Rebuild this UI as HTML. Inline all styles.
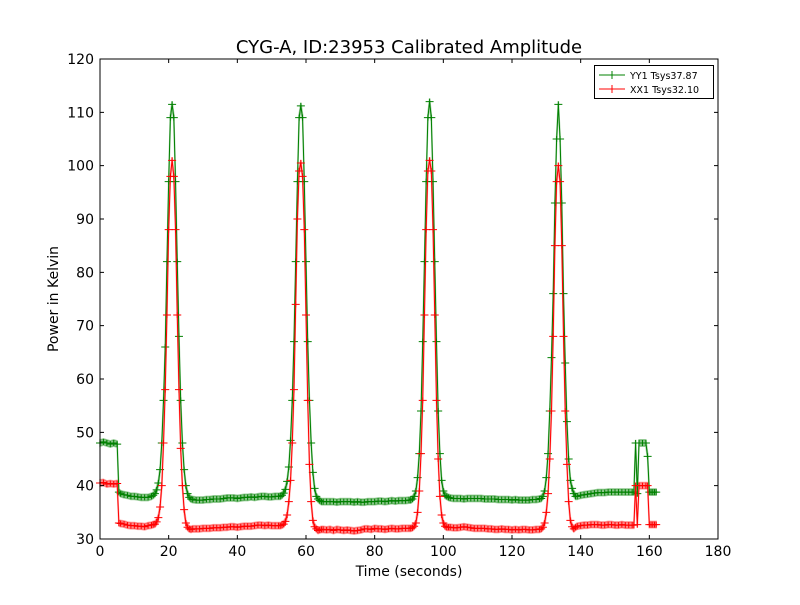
<!DOCTYPE html>
<html><head><meta charset="utf-8"><style>
body{margin:0;background:#fff;}
svg text{font-family:"DejaVu Sans","Liberation Sans",sans-serif;}
</style></head><body>
<svg id="chart" width="800" height="600" xmlns="http://www.w3.org/2000/svg">
<rect width="800" height="600" fill="#fff"/>
<text x="409" y="53" font-size="18" text-anchor="middle">CYG-A, ID:23953 Calibrated Amplitude</text>
<text x="409" y="576" font-size="14" text-anchor="middle">Time (seconds)</text>
<text transform="translate(58,299) rotate(-90)" font-size="14" text-anchor="middle">Power in Kelvin</text>
<g id="plot"></g>
<rect x="100" y="59" width="618" height="480" fill="none" stroke="#000" stroke-width="1"/>
<g id="ticks"></g>
<g>
<rect x="594.5" y="65.5" width="119" height="33" fill="#fff" stroke="#000"/>
<g>
<line x1="599" y1="75" x2="625" y2="75" stroke="#008000"/><line x1="612" y1="71" x2="612" y2="79" stroke="#008000"/>
<text x="630" y="79" font-size="9.5">YY1 Tsys37.87</text></g>
<g>
<line x1="599" y1="89" x2="625" y2="89" stroke="#ff0000"/><line x1="612" y1="85" x2="612" y2="93" stroke="#ff0000"/>
<text x="630" y="93" font-size="9.5">XX1 Tsys32.10</text></g>
</g>
</svg>
<script>
const times=[0,1,2,3,4,5,5.5,6,7,8,9,10,11,12,13,14,15,
15.5,16,16.5,17,17.5,18,18.5,19,19.5,20,20.5,21,21.5,22,22.5,23,23.5,24,24.5,25,25.5,26,26.5,
27,28,29,30,31,32,33,34,35,36,37,38,39,40,41,42,43,44,45,46,47,48,49,50,51,52,
52.5,53,53.5,54,54.5,55,55.5,56,56.5,57,57.5,58,58.5,59,59.5,60,60.5,61,61.5,62,62.5,63,63.5,64,64.5,
65,66,67,68,69,70,71,72,73,74,75,76,77,78,79,80,81,82,83,84,85,86,87,88,89,90,
90.5,91,91.5,92,92.5,93,93.5,94,94.5,95,95.5,96,96.5,97,97.5,98,98.5,99,99.5,100,100.5,101,101.5,
102,103,104,105,106,107,108,109,110,111,112,113,114,115,116,117,118,119,120,121,122,123,124,125,126,127,
128,128.5,129,129.5,130,130.5,131,131.5,132,132.5,133,133.5,134,134.5,135,135.5,136,136.5,137,137.5,138,138.5,139,
140,141,142,143,144,145,146,147,148,149,150,151,152,153,154,155,
155.5,156,156.5,157,158,159,159.5,160,160.5,161,161.5,162];
const yy1=[48,48.2,48,47.8,48,47.8,38.8,38.5,38.3,38.2,38,38,37.9,37.8,37.8,37.8,38,
38.2,38.5,39.2,40.5,43,48,56,66,82,97,109,111.5,109,97,82,68,56,48,43,40,38.5,37.8,37.5,
37.4,37.3,37.3,37.3,37.4,37.4,37.5,37.5,37.5,37.6,37.7,37.7,37.7,37.6,37.7,37.8,37.8,37.9,37.8,37.9,38,38,37.9,37.9,38,38,
38,38.2,38.6,39.3,40.8,43.5,48.5,56,67,82,97,109,111.2,109,97,82,67,56,48,42.5,39.5,38,37.5,37.2,37,
37,37,37,37,36.9,37,37,37,37,36.9,37,36.9,36.9,37,37,37,37.1,37.1,37,37.1,37.2,37.1,37.2,37.2,37.2,37.3,
37.3,37.5,38,39,41.5,46,54,67,82,97,109,112,109,97,82,67,54,46,41,39,38.2,38,37.8,
37.7,37.6,37.6,37.6,37.5,37.6,37.6,37.6,37.6,37.6,37.5,37.5,37.5,37.5,37.4,37.4,37.4,37.4,37.3,37.4,37.3,37.3,37.3,37.3,37.4,37.4,
37.5,37.6,38,39,41.5,46,54,64,76,93,105,111.5,105,93,76,63,52,45,41,39.5,38.5,38,38,
38.2,38.3,38.4,38.5,38.6,38.7,38.7,38.7,38.8,38.8,38.8,38.8,38.8,38.8,38.8,38.8,
38.8,48,38.5,48,48,48,45.5,38.8,38.8,38.8,38.8,38.8];
const xx1=[40.5,40.6,40.3,40.4,40.3,40.4,33,32.9,32.8,32.6,32.5,32.5,32.4,32.4,32.3,32.5,32.6,
32.7,32.8,33.2,34,36,40,48,58,72,88,98,101,98,88,72,58,47,40,35.5,33,32.2,31.9,31.8,
31.9,31.9,31.9,32,32,32,32.1,32.1,32.1,32.2,32.2,32.3,32.3,32.2,32.3,32.4,32.4,32.4,32.5,32.6,32.6,32.5,32.6,32.5,32.5,32.5,
32.5,32.6,32.8,33.3,34.5,37,41,48,58,74,90,99,100.5,98,88,72,56,44,37,33.5,32.3,31.9,31.6,31.7,31.8,
31.8,31.7,31.8,31.6,31.8,31.7,31.6,31.7,31.6,31.5,31.6,31.7,31.9,31.9,31.8,32,31.9,31.9,31.8,31.9,32,31.9,31.9,32,32,32,
32,32.1,32.4,33,35,39,46,56,72,88,99,101,99,88,72,56,45,38,34.5,33,32.4,32.2,32.2,
32.2,32.1,32.1,32.2,32.3,32.2,32.1,32,32,32,32,31.9,31.9,31.8,31.8,31.9,31.8,31.8,31.7,31.8,31.7,31.8,31.8,31.7,31.7,31.8,
31.8,31.9,32.2,33,35,38.5,45,54,68,85,97,100,97,85,68,54,44,37,33.5,32.3,31.9,32.2,32.4,
32.5,32.6,32.6,32.7,32.7,32.7,32.6,32.6,32.7,32.7,32.6,32.6,32.7,32.6,32.6,32.6,
32.6,40,32.7,40,40,40,40,32.7,32.7,32.7,32.7,32.7];
const xTicks=[0,20,40,60,80,100,120,140,160,180];
const yTicks=[30,40,50,60,70,80,90,100,110,120];
const NS="http://www.w3.org/2000/svg";
const X0=100,X1=718,Y0=539,Y1=59;
function sx(t){return X0+t*(X1-X0)/180;}
function sy(v){return Y0-(v-30)*(Y0-Y1)/90;}
function mk(tag,attrs,parent){const e=document.createElementNS(NS,tag);for(const k in attrs)e.setAttribute(k,attrs[k]);parent.appendChild(e);return e;}
const plot=document.getElementById('plot');
function series(vals,color,name){
  const g=mk('g',{},plot);
  
  
  const up=times.map((t,i)=>sx(t).toFixed(2)+','+sy(vals[i]+0.6).toFixed(2));
  const lo=times.map((t,i)=>sx(t).toFixed(2)+','+sy(vals[i]-0.6).toFixed(2)).reverse();
  mk('polygon',{points:up.concat(lo).join(' '),fill:color,'fill-opacity':0.45,stroke:color,'stroke-opacity':0.35,'stroke-width':1.5},g);
  const pts=times.map((t,i)=>sx(t).toFixed(2)+','+sy(vals[i]).toFixed(2)).join(' ');
  const ln=mk('polyline',{points:pts,fill:'none',stroke:color,'stroke-width':1},g);
  
  
  times.forEach((t,i)=>{
    const x=sx(t),y=sy(vals[i]);
    const m=mk('path',{d:`M${x-4},${y}H${x+4}M${x},${y-3}V${y+3}`,stroke:color,'stroke-width':1},g);
    
    
  });
}
series(yy1,'#008000','series-yy1');
series(xx1,'#ff0000','series-xx1');
const tk=document.getElementById('ticks');
xTicks.forEach(v=>{
  const x=sx(v);
  mk('path',{d:`M${x},${Y0}v-4M${x},${Y1}v4`,stroke:'#000'},tk);
  const t=mk('text',{x:x,y:556,'font-size':14,'text-anchor':'middle'},tk);
  t.textContent=v;
  
  
});
yTicks.forEach(v=>{
  const y=sy(v);
  mk('path',{d:`M${X0},${y}h4M${X1},${y}h-4`,stroke:'#000'},tk);
  const t=mk('text',{x:94,y:y+5,'font-size':14,'text-anchor':'end'},tk);
  t.textContent=v;
  
  
});
</script>
</body></html>
